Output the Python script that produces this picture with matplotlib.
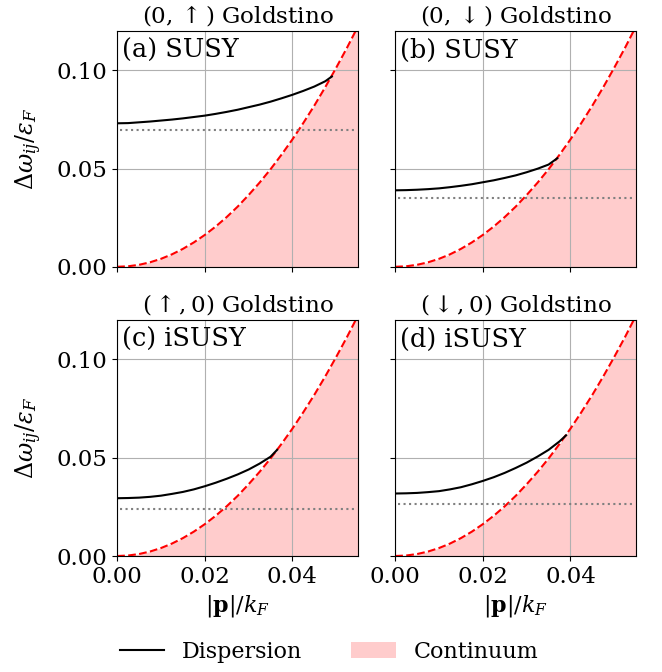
#!/usr/bin/env python3
# coding: utf-8
import numpy as np
import matplotlib
matplotlib.use('Agg')
import matplotlib.pyplot as plt
from matplotlib.patches import Patch
from matplotlib.lines import Line2D

# continuum edge (same in all panels)
p_cont = [0.0, 0.0025, 0.005, 0.0075, 0.01, 0.0125, 0.015, 0.0175, 0.02, 0.0225, 0.025, 0.0275,
          0.03, 0.0325, 0.035, 0.0375, 0.04, 0.0425, 0.045, 0.0475, 0.05, 0.0525, 0.055]
w_cont = [0.0, 0.00025, 0.00101, 0.00228, 0.00405, 0.00633, 0.00911, 0.0124, 0.0162, 0.0205, 0.0253, 0.0306,
          0.0365, 0.0428, 0.0496, 0.0570, 0.0648, 0.0732, 0.0820, 0.0914, 0.1013, 0.1116, 0.1225]

# dispersion curves, one per panel
p_a = [0.0, 0.0025, 0.005, 0.0075, 0.01, 0.0125, 0.015, 0.0175, 0.02, 0.0225, 0.025,
       0.0275, 0.03, 0.0325, 0.035, 0.0375, 0.04, 0.0425, 0.045, 0.0475, 0.049]
w_a = [0.0730, 0.0731, 0.0735, 0.0739, 0.0744, 0.0749, 0.0755, 0.0762, 0.0769, 0.0778, 0.0788,
       0.0799, 0.0812, 0.0825, 0.0840, 0.0857, 0.0875, 0.0895, 0.0917, 0.0944, 0.0968]
p_b = [0.0, 0.0025, 0.005, 0.0075, 0.01, 0.0125, 0.015, 0.0175, 0.02, 0.0225, 0.025,
       0.0275, 0.03, 0.0325, 0.035, 0.037]
w_b = [0.0389, 0.0390, 0.0392, 0.0395, 0.0399, 0.0405, 0.0412, 0.0420, 0.0430, 0.0440, 0.0452,
       0.0465, 0.0481, 0.0499, 0.0520, 0.0552]
p_c = [0.0, 0.0025, 0.005, 0.0075, 0.01, 0.0125, 0.015, 0.0175, 0.02, 0.0225, 0.025,
       0.0275, 0.03, 0.0325, 0.035, 0.0365]
w_c = [0.0294, 0.0295, 0.0297, 0.0301, 0.0307, 0.0316, 0.0326, 0.0339, 0.0355, 0.0373, 0.0393,
       0.0415, 0.0440, 0.0470, 0.0505, 0.0540]
p_d = [0.0, 0.0025, 0.005, 0.0075, 0.01, 0.0125, 0.015, 0.0175, 0.02, 0.0225, 0.025,
       0.0275, 0.03, 0.0325, 0.035, 0.0375, 0.039]
w_d = [0.0318, 0.0319, 0.0321, 0.0325, 0.0330, 0.0339, 0.0350, 0.0365, 0.0382, 0.0401, 0.0423,
       0.0448, 0.0475, 0.0506, 0.0540, 0.0583, 0.0614]

# gap levels (dotted lines)
gaps = [0.0696, 0.0350, 0.0239, 0.0267]

titles = [r'$(0,\uparrow)$ Goldstino', r'$(0,\downarrow)$ Goldstino',
          r'$(\uparrow,0)$ Goldstino', r'$(\downarrow,0)$ Goldstino']
labels = ['(a) SUSY', '(b) SUSY', '(c) iSUSY', '(d) iSUSY']
curves = [(p_a, w_a), (p_b, w_b), (p_c, w_c), (p_d, w_d)]

plt.rcParams['font.family'] = 'DejaVu Serif'
plt.rcParams['mathtext.fontset'] = 'dejavuserif'
plt.rcParams['font.size'] = 16

fig = plt.figure(figsize=(6.62, 6.72), dpi=100)
lefts = [0.177, 0.597]
bottoms = [0.603, 0.1726]
w, h = 0.364, 0.351

for i in range(4):
    r, c = divmod(i, 2)
    ax = fig.add_axes([lefts[c], bottoms[r], w, h])
    ax.fill_between(p_cont, w_cont, 0, color='red', alpha=0.2, lw=0)
    ax.plot(p_cont, w_cont, 'r--', lw=1.5)
    ax.plot(curves[i][0], curves[i][1], 'k-', lw=1.5)
    ax.axhline(gaps[i], color='gray', ls=':', lw=1.5, xmin=0.01, xmax=0.99)
    ax.set_xlim(0, 0.055)
    ax.set_ylim(0, 0.12)
    ax.set_xticks([0.0, 0.02, 0.04])
    ax.set_yticks([0.0, 0.05, 0.10])
    ax.tick_params(labelsize=16.5)
    ax.grid(True)
    ax.set_title(titles[i], fontsize=16.6)
    ax.text(0.02, 0.97, labels[i], transform=ax.transAxes, va='top', ha='left', fontsize=18.4)
    if r == 0:
        ax.set_xticklabels([])
    else:
        ax.set_xlabel(r'$|\mathbf{p}|/k_F$', fontsize=16)
    if c == 1:
        ax.set_yticklabels([])
    else:
        ax.set_ylabel(r'$\Delta\omega_{ij}/\epsilon_F$', fontsize=17, labelpad=9)

handles = [Line2D([], [], color='k', lw=1.5), Patch(color='red', alpha=0.2, lw=0)]
fig.legend(handles, ['Dispersion', 'Continuum'], loc='center', ncol=2, columnspacing=2.2,
           bbox_to_anchor=(0.497, 0.03), frameon=False, fontsize=16)

plt.savefig('out.png', dpi=100)
